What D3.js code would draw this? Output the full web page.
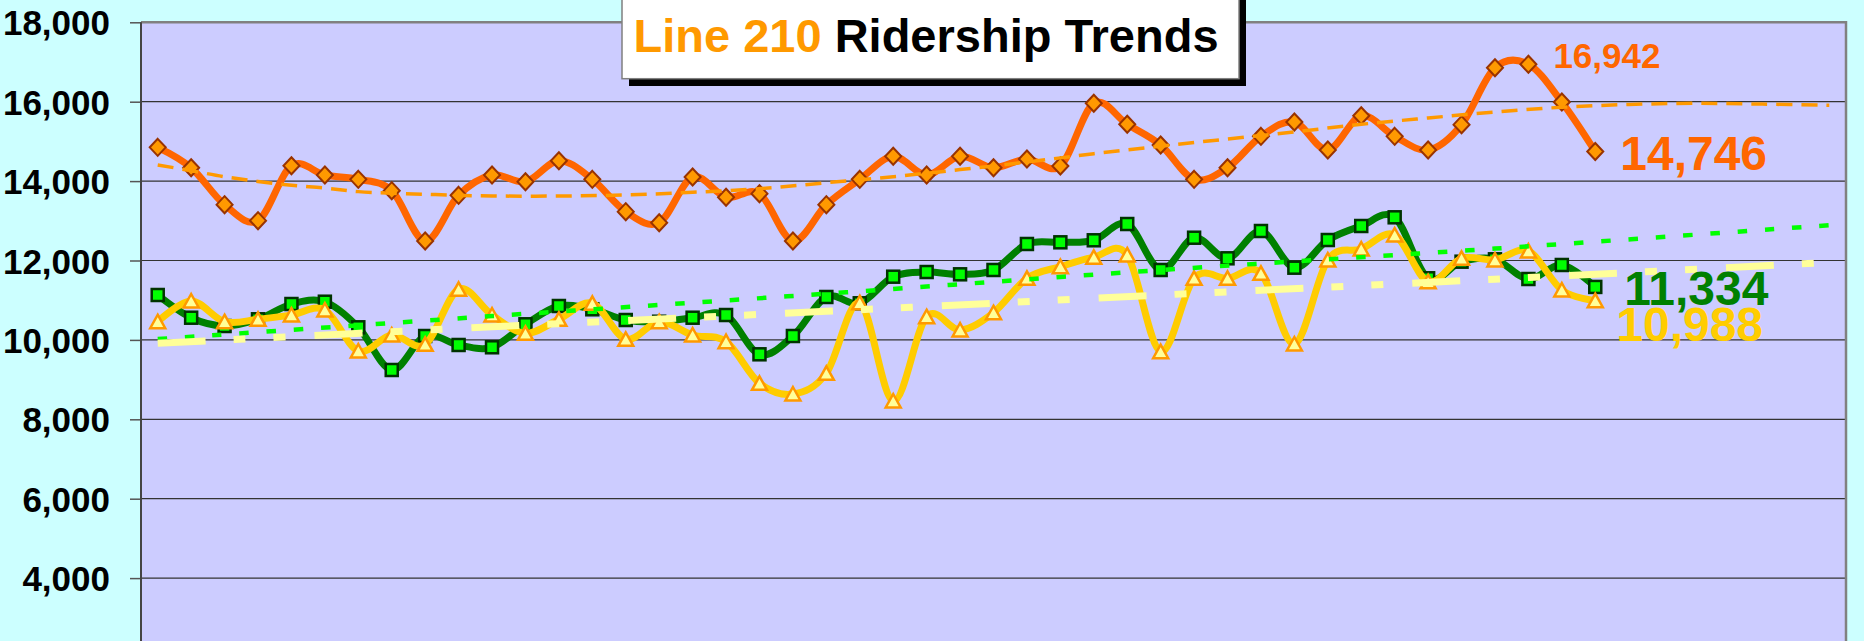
<!DOCTYPE html>
<html lang="en">
  <head>
    <meta charset="UTF-8" />
    <script src="https://d3js.org/d3.v7.min.js"></script>
    <style>
      html,
      body {
        margin: 0;
        padding: 0;
        background: #ccffff;
        overflow: hidden;
      }
      text {
        font-family: "Liberation Sans", Arial, sans-serif;
        font-weight: bold;
      }
    </style>
    <title>Line 210 Ridership Trends</title>
  </head>
  <body>
    <svg id="chart" width="1864" height="641"></svg>
    <script>
      // monthly ridership, 44 periods, three series
      const seriesOrange = [
        14851, 14337, 13406, 13003, 14388, 14154, 14045, 13759, 12491, 13642,
        14154, 13985, 14514, 14045, 13230, 12952, 14103, 13592, 13683, 12491,
        13406, 14045, 14625, 14154, 14625, 14337, 14557, 14380, 15960, 15431,
        14909, 14045, 14337, 15128, 15489, 14783, 15647, 15128, 14783, 15421,
        16856, 16942, 15992, 14746,
      ];
      const seriesGreen = [
        11131, 10559, 10350, 10519, 10904, 10962, 10317, 9242, 10098, 9872,
        9814, 10393, 10854, 10771, 10501, 10458, 10559, 10627, 9637, 10098,
        11081, 10922, 11592, 11710, 11652, 11761, 12416, 12458, 12509, 12919,
        11761, 12574, 12055, 12743, 11819, 12516, 12869, 13088, 11552, 11970,
        12030, 11534, 11887, 11334,
      ];
      const seriesYellow = [
        10458, 10980, 10458, 10519, 10627, 10753, 9720, 10123, 9889, 11275,
        10627, 10166, 10519, 10922, 10015, 10458, 10123, 9955, 8907, 8637,
        9159, 10937, 8461, 10584, 10249, 10685, 11552, 11844, 12081, 12139,
        9703, 11552, 11552, 11678, 9897, 12013, 12290, 12642, 11466, 12055,
        12013, 12239, 11257, 10988,
      ];

      // trendlines, extended 7 periods forward
      const orangeTrendIdx = [
        0, 1, 2, 3, 4, 5, 6, 8, 10, 12, 14, 16, 18, 20, 22, 24, 26, 28, 30, 32,
        34, 36, 38, 40, 42, 44, 46, 48, 50,
      ];
      const orangeTrendVal = [
        14406, 14262, 14110, 13990, 13894, 13825, 13735, 13668, 13625, 13625,
        13650, 13718, 13810, 13960, 14111, 14290, 14480, 14690, 14880, 15060,
        15240, 15430, 15590, 15740, 15860, 15930, 15960, 15940, 15909,
      ];
      const greenTrendIdx = [0, 10, 20, 30, 40, 50];
      const greenTrendVal = [10020, 10600, 11165, 11760, 12300, 12890];
      const yellowTrendIdx = [0, 10, 20, 30, 40, 50];
      const yellowTrendVal = [9914, 10330, 10720, 11130, 11530, 11950];

      const yTicks = [4000, 6000, 8000, 10000, 12000, 14000, 16000, 18000];
      const totalPeriods = 51;

      const svg = d3.select("#chart");
      const plot = { left: 141, right: 1846, top: 22.3 };

      const x = d3
        .scaleLinear()
        .domain([-0.5, totalPeriods - 0.5])
        .range([plot.left, plot.right]);
      const y = d3.scaleLinear().domain([0, 18000]).range([736.9, plot.top]);

      // plot area
      svg
        .append("rect")
        .attr("x", plot.left)
        .attr("y", plot.top)
        .attr("width", plot.right - plot.left)
        .attr("height", 641 - plot.top + 10)
        .attr("fill", "#ccccff");

      // gridlines
      svg
        .append("g")
        .selectAll("line")
        .data(yTicks.filter((d) => d < 18000))
        .join("line")
        .attr("x1", plot.left)
        .attr("x2", plot.right)
        .attr("y1", (d) => y(d))
        .attr("y2", (d) => y(d))
        .attr("stroke", "#333")
        .attr("stroke-width", 1.2);

      // border top / right
      svg
        .append("path")
        .attr(
          "d",
          `M${plot.left},${plot.top}H${plot.right}V${641 + 5}`
        )
        .attr("fill", "none")
        .attr("stroke", "#808080")
        .attr("stroke-width", 2.5);

      // y axis
      const yAxis = svg
        .append("g")
        .attr("transform", `translate(${plot.left},0)`)
        .call(
          d3
            .axisLeft(y)
            .tickValues(yTicks)
            .tickSize(11)
            .tickSizeOuter(0)
            .tickPadding(20)
            .tickFormat(d3.format(","))
        );
      yAxis.select(".domain").remove();
      yAxis.selectAll(".tick line").attr("stroke", "#555").attr("stroke-width", 1.5);
      yAxis
        .selectAll(".tick text")
        .attr("fill", "#000")
        .attr("dy", "0.36em")
        .style("font-size", "35px")
        .style("font-family", '"Liberation Sans", Arial, sans-serif')
        .style("font-weight", "bold");
      svg
        .append("line")
        .attr("x1", plot.left)
        .attr("x2", plot.left)
        .attr("y1", plot.top)
        .attr("y2", 646)
        .attr("stroke", "#444")
        .attr("stroke-width", 2);

      const smooth = d3
        .line()
        .x((d) => x(d[0]))
        .y((d) => y(d[1]))
        .curve(d3.curveCardinal.tension(0));

      function drawSeries(values, color) {
        svg
          .append("path")
          .datum(values.map((v, i) => [i, v]))
          .attr("d", smooth)
          .attr("fill", "none")
          .attr("stroke", color)
          .attr("stroke-width", 7)
          .attr("stroke-linejoin", "round");
      }

      // orange series
      drawSeries(seriesOrange, "#ff6600");
      svg
        .append("g")
        .selectAll("path")
        .data(seriesOrange)
        .join("path")
        .attr("d", "M0,-8.5L8,0L0,8.5L-8,0Z")
        .attr("transform", (d, i) => `translate(${x(i)},${y(d)})`)
        .attr("fill", "#ff9900")
        .attr("stroke", "#993300")
        .attr("stroke-width", 2);

      // green series
      drawSeries(seriesGreen, "#008000");
      svg
        .append("g")
        .selectAll("rect")
        .data(seriesGreen)
        .join("rect")
        .attr("x", (d, i) => x(i) - 6)
        .attr("y", (d) => y(d) - 6)
        .attr("width", 12)
        .attr("height", 12)
        .attr("fill", "#00ff00")
        .attr("stroke", "#003300")
        .attr("stroke-width", 2.5);

      // yellow series
      drawSeries(seriesYellow, "#ffcc00");
      svg
        .append("g")
        .selectAll("path")
        .data(seriesYellow)
        .join("path")
        .attr("d", "M0,-7L7.5,6.5L-7.5,6.5Z")
        .attr("transform", (d, i) => `translate(${x(i)},${y(d)})`)
        .attr("fill", "#ffff99")
        .attr("stroke", "#ff9900")
        .attr("stroke-width", 2.5)
        .attr("stroke-linejoin", "miter");

      // trendlines
      function drawTrend(idx, vals, color, width, dash) {
        svg
          .append("path")
          .datum(idx.map((i, k) => [i, vals[k]]))
          .attr("d", smooth.curve(d3.curveCatmullRom))
          .attr("fill", "none")
          .attr("stroke", color)
          .attr("stroke-width", width)
          .attr("stroke-dasharray", dash);
      }
      drawTrend(orangeTrendIdx, orangeTrendVal, "#ff9900", 3.5, "16,9");
      drawTrend(greenTrendIdx, greenTrendVal, "#00ff00", 4.5, "9.5,17.8");
      drawTrend(yellowTrendIdx, yellowTrendVal, "#ffff99", 7, "48,28,12,28,12,29");

      // data labels
      const last = seriesOrange.length - 1;
      const fmt = d3.format(",");
      const maxIdx = seriesOrange.indexOf(d3.max(seriesOrange));
      const labels = [
        { i: maxIdx, v: seriesOrange[maxIdx], color: "#ff6600", size: 35, dx: 25, dy: 4 },
        { i: last, v: seriesOrange[last], color: "#ff6600", size: 48, dx: 25, dy: 19 },
        { i: last, v: seriesGreen[last], color: "#008000", size: 48, dx: 29, dy: 18 },
        { i: last, v: seriesYellow[last], color: "#ffcc00", size: 48, dx: 21, dy: 40 },
      ];
      svg
        .append("g")
        .selectAll("text")
        .data(labels)
        .join("text")
        .attr("x", (d) => x(d.i) + d.dx)
        .attr("y", (d) => y(d.v) + d.dy)
        .attr("fill", (d) => d.color)
        .style("font-size", (d) => d.size + "px")
        .text((d) => fmt(d.v));

      // title box
      const title = svg.append("g");
      title
        .append("rect")
        .attr("x", 629)
        .attr("y", -3)
        .attr("width", 617)
        .attr("height", 89)
        .attr("fill", "#000");
      title
        .append("rect")
        .attr("x", 622)
        .attr("y", -10)
        .attr("width", 617)
        .attr("height", 88.7)
        .attr("fill", "#fff")
        .attr("stroke", "#808080")
        .attr("stroke-width", 1.5);
      const t = title
        .append("text")
        .attr("x", 633.5)
        .attr("y", 52)
        .style("font-size", "47px");
      t.append("tspan").attr("fill", "#ff9900").text("Line 210");
      t.append("tspan").attr("fill", "#000").text(" Ridership Trends");
    </script>
  </body>
</html>
